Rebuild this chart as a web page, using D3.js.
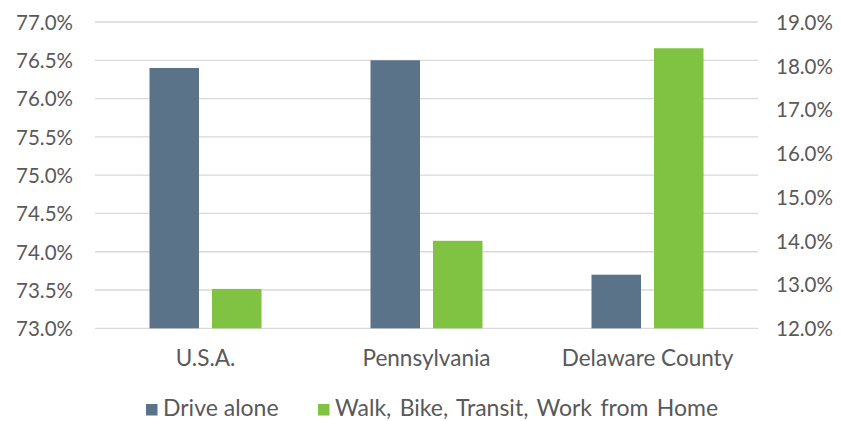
<!DOCTYPE html>
<html><head><meta charset="utf-8">
<script src="https://cdn.jsdelivr.net/npm/d3@7"></script>
<style>body{margin:0;background:#fff}svg{display:block;font-family:Lato,"Open Sans",sans-serif}</style>
</head><body>
<svg id="c" width="841" height="421"></svg>
<script>
const categories = ["U.S.A.", "Pennsylvania", "Delaware County"];
const driveAlone = [76.4, 76.5, 73.7];
const walkBikeEtc = [12.9, 14.0, 18.4];
const leftTicks = [73.0, 73.5, 74.0, 74.5, 75.0, 75.5, 76.0, 76.5, 77.0];
const rightTicks = [12, 13, 14, 15, 16, 17, 18, 19];
const seriesNames = ["Drive alone", "Walk, Bike, Transit, Work from Home"];
const colors = ["#5a7389", "#80c342"];

const svg = d3.select("#c");
const x0 = 95, x1 = 758, yTop = 22, yBot = 328.3;
const x = d3.scaleBand().domain(categories).range([x0, x1]);
const yL = d3.scaleLinear().domain([73, 77]).range([yBot, yTop]);
const yR = d3.scaleLinear().domain([12, 19]).range([yBot, yTop]);
const barW = 49.5, gap = 13;

// gridlines
svg.append("g").selectAll("line").data(leftTicks).join("line")
  .attr("x1", x0).attr("x2", x1)
  .attr("y1", d => yL(d)).attr("y2", d => yL(d))
  .attr("stroke", "#d9d9d9").attr("stroke-width", 1.3);

const tickColor = "#595959";
const tickSize = 20.5, labelSize = 22.5, legendSize = 23;
// left axis
const gl = svg.append("g").attr("transform", `translate(73,0)`)
  .call(d3.axisLeft(yL).tickValues(leftTicks).tickFormat(d => d.toFixed(1) + "%").tickSize(0).tickPadding(0));
gl.select(".domain").remove();
gl.selectAll("text").attr("font-size", tickSize).attr("fill", tickColor).attr("font-family", "Lato").attr("dy", "0.36em");
// right axis
const gr = svg.append("g").attr("transform", `translate(776,0)`)
  .call(d3.axisRight(yR).tickValues(rightTicks).tickFormat(d => d.toFixed(1) + "%").tickSize(0).tickPadding(0));
gr.select(".domain").remove();
gr.selectAll("text").attr("font-size", tickSize).attr("fill", tickColor).attr("font-family", "Lato").attr("dy", "0.36em");

// bars
const c = d => x(d) + x.bandwidth() / 2;
svg.append("g").selectAll("rect").data(categories).join("rect")
  .attr("x", d => c(d) - gap / 2 - barW)
  .attr("width", barW)
  .attr("y", (d, i) => yL(driveAlone[i]))
  .attr("height", (d, i) => yBot - yL(driveAlone[i]))
  .attr("fill", colors[0]);
svg.append("g").selectAll("rect").data(categories).join("rect")
  .attr("x", d => c(d) + gap / 2)
  .attr("width", barW)
  .attr("y", (d, i) => yR(walkBikeEtc[i]))
  .attr("height", (d, i) => yBot - yR(walkBikeEtc[i]))
  .attr("fill", colors[1]);

// x labels
const gx = svg.append("g").attr("transform", `translate(0,${yBot})`)
  .call(d3.axisBottom(x).tickSize(0).tickPadding(0));
gx.select(".domain").remove();
gx.selectAll("text").attr("font-size", labelSize).attr("fill", tickColor).attr("dy", 0).attr("y", 38).attr("font-family", "Lato");

// legend
const legendX = [146, 318];
const lg = svg.append("g").selectAll("g").data(seriesNames).join("g")
  .attr("transform", (d, i) => `translate(${legendX[i]},404)`);
lg.append("rect").attr("width", 11.5).attr("height", 11.5).attr("fill", (d, i) => colors[i]);
lg.append("text").attr("x", 17).attr("y", 12).attr("font-size", legendSize).attr("fill", tickColor)
  .attr("word-spacing", (d, i) => i === 1 ? 2.5 : 0).text(d => d);
</script>
</body></html>
